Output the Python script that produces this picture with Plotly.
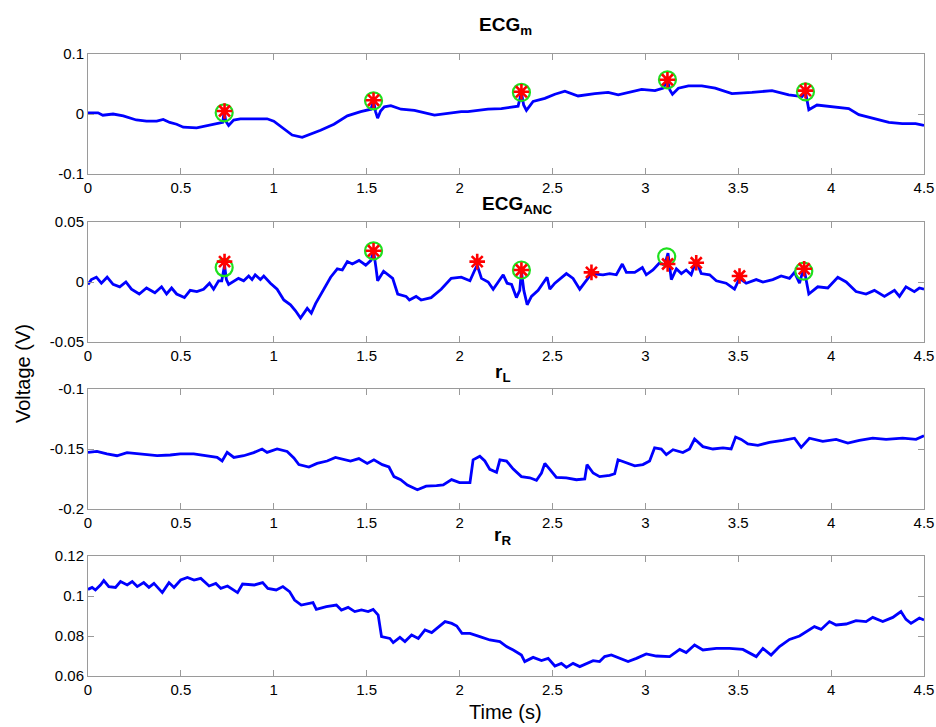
import plotly.graph_objects as go

# ---------------- data ----------------
x_ticks = [0, 0.5, 1, 1.5, 2, 2.5, 3, 3.5, 4, 4.5]
x_tick_labels = ["0", "0.5", "1", "1.5", "2", "2.5", "3", "3.5", "4", "4.5"]

ecgm_t = [0, 0.054, 0.08, 0.135, 0.19, 0.225, 0.26, 0.315, 0.37, 0.405, 0.44, 0.477, 0.513, 0.585,
          0.62, 0.657, 0.71, 0.725, 0.733, 0.742, 0.757, 0.784, 0.82, 0.9, 0.964, 1.0, 1.054, 1.099,
          1.153, 1.19, 1.252, 1.324, 1.396, 1.468, 1.523, 1.537, 1.548, 1.559, 1.575, 1.595, 1.63,
          1.685, 1.757, 1.865, 1.937, 2.009, 2.045, 2.153, 2.225, 2.315, 2.333, 2.345, 2.36, 2.396,
          2.459, 2.513, 2.567, 2.638, 2.728, 2.8, 2.854, 2.908, 2.98, 3.052, 3.097, 3.119, 3.132,
          3.146, 3.178, 3.232, 3.304, 3.376, 3.466, 3.574, 3.682, 3.772, 3.844, 3.862, 3.872, 3.88,
          3.924, 4.023, 4.095, 4.149, 4.221, 4.311, 4.383, 4.455, 4.5]
ecgm_v = [0.002, 0.002, -0.002, 0.0, -0.003, -0.006, -0.010, -0.012, -0.012, -0.009, -0.014, -0.017,
          -0.022, -0.023, -0.021, -0.018, -0.016, -0.014, 0.004, -0.012, -0.019, -0.010, -0.008,
          -0.008, -0.008, -0.012, -0.025, -0.035, -0.039, -0.035, -0.027, -0.017, -0.003, 0.004,
          0.008, 0.022, 0.004, -0.007, 0.005, 0.012, 0.014, 0.008, 0.006, -0.002, 0.001, 0.004,
          0.004, 0.008, 0.009, 0.013, 0.036, 0.015, 0.006, 0.021, 0.026, 0.033, 0.038, 0.030, 0.034,
          0.036, 0.032, 0.036, 0.041, 0.039, 0.043, 0.057, 0.040, 0.033, 0.043, 0.047, 0.047, 0.043,
          0.034, 0.036, 0.039, 0.032, 0.029, 0.037, 0.020, 0.007, 0.015, 0.012, 0.009, -0.001,
          -0.007, -0.014, -0.016, -0.016, -0.019]
ecgm_circ_t = [0.733, 1.537, 2.333, 3.119, 3.862]
ecgm_circ_v = [0.002, 0.022, 0.036, 0.057, 0.037]
ecgm_star_t = [0.735, 1.537, 2.333, 3.119, 3.862]
ecgm_star_v = [0.005, 0.023, 0.037, 0.057, 0.039]

anc_t = [0, 0.018, 0.045, 0.072, 0.103, 0.135, 0.171, 0.204, 0.234, 0.276, 0.315, 0.36, 0.396, 0.423,
         0.45, 0.477, 0.519, 0.55, 0.586, 0.622, 0.654, 0.676, 0.703, 0.72, 0.735, 0.745, 0.757,
         0.81, 0.838, 0.865, 0.883, 0.9, 0.928, 0.946, 0.982, 1.018, 1.054, 1.09, 1.117, 1.144,
         1.18, 1.202, 1.225, 1.252, 1.279, 1.306, 1.342, 1.369, 1.396, 1.423, 1.459, 1.495, 1.523,
         1.537, 1.55, 1.559, 1.591, 1.613, 1.64, 1.667, 1.712, 1.73, 1.766, 1.793, 1.847, 1.901,
         1.955, 2.009, 2.056, 2.082, 2.095, 2.118, 2.154, 2.181, 2.208, 2.235, 2.256, 2.28, 2.306,
         2.324, 2.333, 2.346, 2.364, 2.387, 2.423, 2.453, 2.471, 2.486, 2.513, 2.575, 2.611, 2.647,
         2.683, 2.71, 2.772, 2.808, 2.844, 2.876, 2.898, 2.943, 2.984, 3.005, 3.041, 3.077, 3.104,
         3.122, 3.14, 3.167, 3.194, 3.22, 3.247, 3.274, 3.301, 3.346, 3.382, 3.435, 3.48, 3.507,
         3.543, 3.597, 3.633, 3.686, 3.731, 3.776, 3.803, 3.83, 3.853, 3.88, 3.928, 3.982, 4.036,
         4.081, 4.134, 4.188, 4.233, 4.287, 4.341, 4.368, 4.403, 4.448, 4.475, 4.5]
anc_v = [-0.002, 0.002, 0.004, -0.001, 0.004, -0.002, -0.004, 0.0, -0.006, -0.010, -0.005, -0.009,
         -0.004, -0.010, -0.005, -0.010, -0.013, -0.007, -0.008, -0.006, -0.001, -0.006, 0.001,
         0.001, 0.014, 0.002, -0.002, 0.003, 0.001, 0.005, 0.002, 0.006, 0.002, 0.005, -0.001,
         -0.006, -0.015, -0.019, -0.024, -0.030, -0.022, -0.026, -0.018, -0.011, -0.004, 0.004,
         0.011, 0.010, 0.017, 0.015, 0.018, 0.014, 0.018, 0.026, 0.012, 0.001, 0.009, 0.006, 0.003,
         -0.010, -0.012, -0.015, -0.012, -0.015, -0.013, -0.006, 0.003, 0.004, 0.001, 0.010, 0.014,
         0.003, 0.0, -0.006, 0.0, 0.006, -0.001, -0.002, -0.013, -0.007, 0.009, -0.007, -0.019,
         -0.012, -0.007, 0.0, 0.004, -0.006, -0.001, 0.007, 0.003, -0.006, 0.001, 0.007, 0.006,
         0.007, 0.006, 0.015, 0.008, 0.008, 0.012, 0.006, 0.010, 0.016, 0.014, 0.024, 0.002, 0.011,
         0.007, 0.010, 0.006, 0.018, 0.007, 0.006, 0.001, -0.001, -0.006, 0.003, -0.001, 0.002, 0.0,
         0.002, 0.005, 0.003, 0.008, -0.001, 0.012, -0.010, -0.004, -0.005, 0.004, 0.0, -0.008,
         -0.010, -0.007, -0.012, -0.007, -0.012, -0.004, -0.008, -0.005, -0.006]
anc_circ_t = [0.733, 1.537, 2.333, 3.115, 3.853]
anc_circ_v = [0.012, 0.026, 0.010, 0.021, 0.009]
anc_star_t = [0.735, 1.537, 2.095, 2.333, 2.71, 3.12, 3.274, 3.507, 3.855]
anc_star_v = [0.017, 0.026, 0.017, 0.010, 0.008, 0.015, 0.016, 0.005, 0.011]

rl_t = [0, 0.048, 0.102, 0.156, 0.21, 0.264, 0.318, 0.372, 0.443, 0.497, 0.569, 0.641, 0.695, 0.722,
        0.749, 0.785, 0.838, 0.892, 0.937, 0.964, 1.018, 1.072, 1.108, 1.135, 1.189, 1.233, 1.287,
        1.332, 1.377, 1.413, 1.458, 1.503, 1.539, 1.584, 1.62, 1.647, 1.683, 1.719, 1.773, 1.82,
        1.876, 1.912, 1.957, 2.0, 2.056, 2.073, 2.109, 2.136, 2.163, 2.199, 2.217, 2.253, 2.289,
        2.333, 2.378, 2.414, 2.441, 2.459, 2.486, 2.521, 2.575, 2.629, 2.674, 2.686, 2.719, 2.754,
        2.808, 2.835, 2.853, 2.898, 2.943, 2.987, 3.023, 3.05, 3.086, 3.113, 3.149, 3.202, 3.238,
        3.265, 3.31, 3.364, 3.418, 3.462, 3.486, 3.516, 3.552, 3.606, 3.668, 3.74, 3.803, 3.839,
        3.883, 3.955, 4.027, 4.09, 4.152, 4.224, 4.296, 4.385, 4.457, 4.5]
rl_v = [-0.1528, -0.152, -0.154, -0.1556, -0.153, -0.154, -0.155, -0.1556, -0.155, -0.154, -0.154,
        -0.1556, -0.157, -0.160, -0.1528, -0.157, -0.1556, -0.153, -0.150, -0.1528, -0.150, -0.152,
        -0.1575, -0.163, -0.165, -0.162, -0.160, -0.157, -0.159, -0.160, -0.158, -0.162, -0.159,
        -0.163, -0.165, -0.173, -0.1755, -0.180, -0.184, -0.181, -0.1806, -0.180, -0.1755, -0.178,
        -0.178, -0.159, -0.156, -0.160, -0.167, -0.1695, -0.159, -0.160, -0.1667, -0.173, -0.174,
        -0.176, -0.170, -0.162, -0.167, -0.1736, -0.174, -0.1756, -0.175, -0.163, -0.170, -0.173,
        -0.172, -0.1706, -0.159, -0.1617, -0.164, -0.163, -0.160, -0.149, -0.150, -0.1547, -0.1506,
        -0.153, -0.150, -0.1417, -0.148, -0.150, -0.149, -0.150, -0.140, -0.142, -0.1458, -0.147,
        -0.1444, -0.1428, -0.141, -0.1486, -0.141, -0.1436, -0.142, -0.145, -0.1428, -0.141, -0.142,
        -0.141, -0.142, -0.139]

rr_t = [0, 0.022, 0.04, 0.067, 0.085, 0.112, 0.148, 0.175, 0.211, 0.238, 0.265, 0.3, 0.328, 0.355,
        0.4, 0.436, 0.463, 0.499, 0.535, 0.571, 0.607, 0.652, 0.688, 0.715, 0.751, 0.805, 0.832,
        0.895, 0.94, 0.968, 1.013, 1.049, 1.085, 1.112, 1.148, 1.184, 1.211, 1.229, 1.283, 1.337,
        1.364, 1.4, 1.436, 1.472, 1.508, 1.535, 1.562, 1.58, 1.625, 1.643, 1.679, 1.706, 1.742,
        1.778, 1.814, 1.85, 1.886, 1.922, 1.958, 1.985, 2.013, 2.056, 2.109, 2.163, 2.217, 2.253,
        2.289, 2.333, 2.351, 2.396, 2.441, 2.477, 2.513, 2.548, 2.575, 2.611, 2.647, 2.683, 2.719,
        2.754, 2.781, 2.817, 2.862, 2.907, 2.952, 3.005, 3.059, 3.131, 3.185, 3.22, 3.265, 3.31,
        3.382, 3.453, 3.525, 3.57, 3.597, 3.633, 3.677, 3.722, 3.776, 3.83, 3.866, 3.91, 3.946,
        3.991, 4.027, 4.081, 4.134, 4.188, 4.224, 4.278, 4.332, 4.376, 4.403, 4.43, 4.475, 4.5]
rr_v = [0.1033, 0.1043, 0.103, 0.1055, 0.1077, 0.1047, 0.1043, 0.1072, 0.1055, 0.1072, 0.1047,
        0.1067, 0.1043, 0.1063, 0.1017, 0.1067, 0.1043, 0.108, 0.1093, 0.108, 0.1088, 0.105, 0.1063,
        0.1038, 0.105, 0.1017, 0.106, 0.1055, 0.1067, 0.1038, 0.103, 0.1047, 0.1022, 0.098, 0.0955,
        0.096, 0.0967, 0.0933, 0.0947, 0.0955, 0.093, 0.0943, 0.0922, 0.093, 0.0922, 0.0933, 0.0905,
        0.0797, 0.0788, 0.0767, 0.0793, 0.0772, 0.0805, 0.0788, 0.083, 0.0817, 0.0843, 0.0872,
        0.0863, 0.085, 0.0813, 0.0813, 0.0797, 0.078, 0.0772, 0.0747, 0.073, 0.0705, 0.0672, 0.0693,
        0.0677, 0.0688, 0.065, 0.0663, 0.0643, 0.0663, 0.0647, 0.0663, 0.0677, 0.0672, 0.0697,
        0.0705, 0.0688, 0.0672, 0.0688, 0.071, 0.07, 0.0697, 0.0733, 0.0717, 0.0755, 0.073, 0.0738,
        0.0738, 0.0733, 0.0713, 0.0697, 0.0738, 0.0705, 0.0747, 0.0783, 0.08, 0.0822, 0.0847,
        0.0833, 0.0872, 0.0855, 0.086, 0.0877, 0.0872, 0.0893, 0.0872, 0.0893, 0.0922, 0.0883,
        0.0863, 0.089, 0.088]

panels = [
    dict(title="ECG<sub>m</sub>", t=ecgm_t, v=ecgm_v, circ=(ecgm_circ_t, ecgm_circ_v),
         star=(ecgm_star_t, ecgm_star_v), yr=[-0.1, 0.1],
         yt=[-0.1, 0, 0.1], ytl=["-0.1", "0", "0.1"]),
    dict(title="ECG<sub>ANC</sub>", t=anc_t, v=anc_v, circ=(anc_circ_t, anc_circ_v),
         star=(anc_star_t, anc_star_v), yr=[-0.05, 0.05],
         yt=[-0.05, 0, 0.05], ytl=["-0.05", "0", "0.05"]),
    dict(title="r<sub>L</sub>", t=rl_t, v=rl_v, circ=None, star=None, yr=[-0.2, -0.1],
         yt=[-0.2, -0.15, -0.1], ytl=["-0.2", "-0.15", "-0.1"]),
    dict(title="r<sub>R</sub>", t=rr_t, v=rr_v, circ=None, star=None, yr=[0.06, 0.12],
         yt=[0.06, 0.08, 0.1, 0.12], ytl=["0.06", "0.08", "0.1", "0.12"]),
]

# ---------------- layout geometry ----------------
W, H = 936, 727
SCR_L, SCR_R, SCR_T, SCR_B = 88, 924, 54, 676   # plot area in screen px
ML, MT = SCR_L, SCR_T
MR, MB = W - SCR_R, H - SCR_B
plot_h = H - MT - MB
plot_w = W - ML - MR
panel_px = [(54, 174), (222, 342), (389, 509), (556, 676)]  # top, bottom rows in px
title_cx = [505, 517, 503, 502]
title_gap = [14, 3, 2, 6]


def ydom(top, bot):
    return [(H - MB - bot) / plot_h, (H - MB - top) / plot_h]


def px_x(x):
    return (x - ML) / plot_w


def px_y(y):
    return (H - MB - y) / plot_h


FONT = "Liberation Sans, Arial, Helvetica, sans-serif"
AX_COL = "#9a9a9a"
BLUE = "#0000FF"
RED = "#FF0000"
GREEN = "#1EE01E"

fig = go.Figure()
layout = dict(
    width=W, height=H, margin=dict(l=ML, r=MR, t=MT, b=MB, autoexpand=False),
    paper_bgcolor="white", plot_bgcolor="white", showlegend=False,
    font=dict(family=FONT, size=15, color="black"),
)
annotations = []

for i, p in enumerate(panels):
    n = "" if i == 0 else str(i + 1)
    xa, ya = "x" + n, "y" + n
    fig.add_trace(go.Scatter(x=p["t"], y=p["v"], mode="lines", xaxis=xa, yaxis=ya,
                             line=dict(color=BLUE, width=2.8), hoverinfo="skip"))
    if p["circ"]:
        fig.add_trace(go.Scatter(x=p["circ"][0], y=p["circ"][1], mode="markers", xaxis=xa, yaxis=ya,
                                 marker=dict(symbol="circle-open", size=17, color=GREEN,
                                             line=dict(color=GREEN, width=2.2))))
    if p["star"]:
        fig.add_trace(go.Scatter(x=p["star"][0], y=p["star"][1], mode="markers", xaxis=xa, yaxis=ya,
                                 marker=dict(symbol="asterisk-open", size=13, color=RED,
                                             line=dict(color=RED, width=2.6))))
    top, bot = panel_px[i]
    dom = ydom(top, bot)
    layout["xaxis" + n] = dict(
        domain=[0, 1], anchor=ya, range=[0, 4.5], tickmode="array",
        tickvals=x_ticks, ticktext=x_tick_labels, ticks="inside", ticklen=6,
        tickcolor=AX_COL, showline=True, linecolor=AX_COL, linewidth=1, mirror="ticks",
        showgrid=False, zeroline=False, tickfont=dict(family=FONT, size=15, color="black"),
        fixedrange=True,
    )
    layout["yaxis" + n] = dict(
        domain=dom, anchor=xa, range=p["yr"], tickmode="array",
        tickvals=p["yt"], ticktext=p["ytl"], ticks="inside", ticklen=6,
        tickcolor=AX_COL, showline=True, linecolor=AX_COL, linewidth=1, mirror="ticks",
        showgrid=False, zeroline=False, tickfont=dict(family=FONT, size=15, color="black"),
        fixedrange=True,
    )
    annotations.append(dict(
        text="<b>" + p["title"] + "</b>", xref="paper", yref="paper",
        x=px_x(title_cx[i]), y=dom[1], xanchor="center", yanchor="bottom",
        yshift=title_gap[i], showarrow=False, font=dict(family=FONT, size=19, color="black"),
    ))

annotations.append(dict(text="Voltage (V)", xref="paper", yref="paper",
                        x=px_x(23), y=px_y(374), textangle=-90,
                        xanchor="center", yanchor="middle", showarrow=False,
                        font=dict(family=FONT, size=20, color="black")))
annotations.append(dict(text="Time (s)", xref="paper", yref="paper",
                        x=px_x(505), y=px_y(712),
                        xanchor="center", yanchor="middle", showarrow=False,
                        font=dict(family=FONT, size=20, color="black")))
layout["annotations"] = annotations
fig.update_layout(**layout)
# remove the default 8 px page margin so the figure fills the window exactly
fig.write_html("out.html", config={"displayModeBar": False},
               post_script="document.body.style.margin='0';document.body.style.overflow='hidden';")
